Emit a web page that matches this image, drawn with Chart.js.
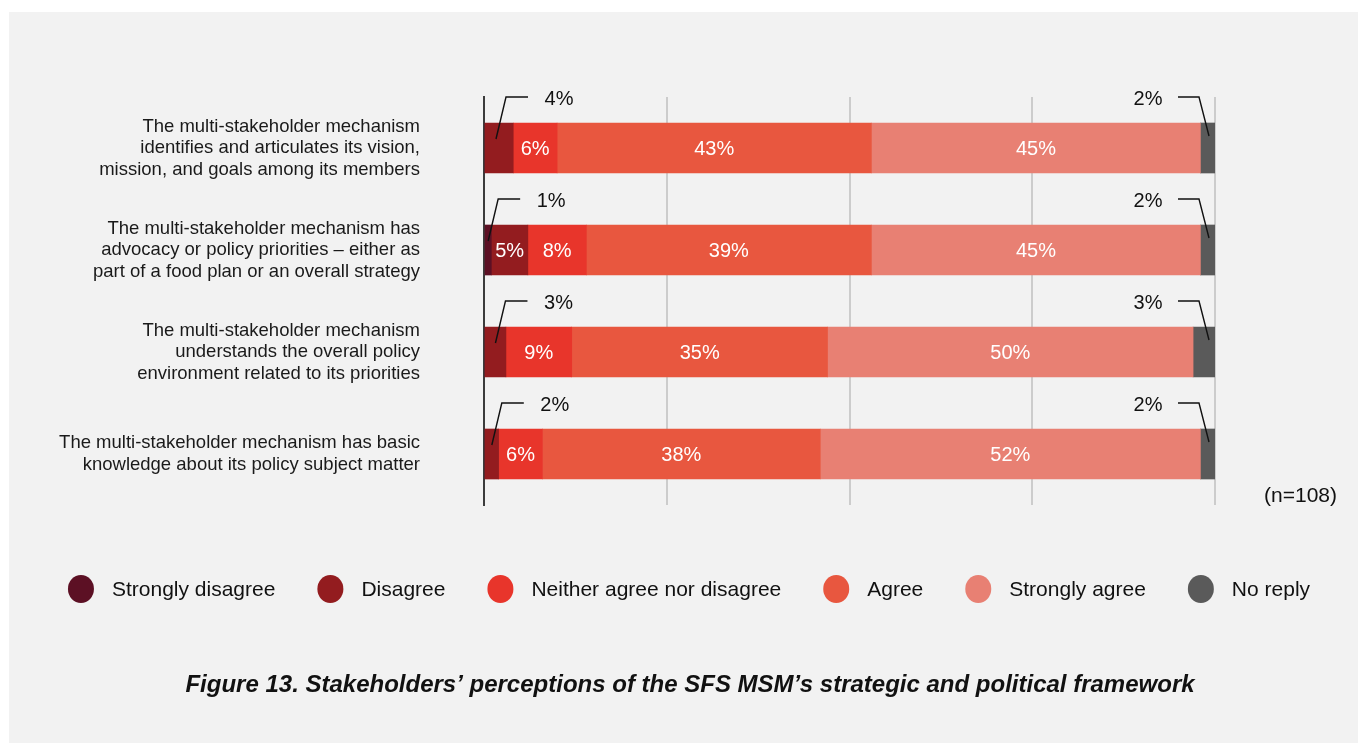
<!DOCTYPE html>
<html>
<head>
<meta charset="utf-8">
<script src="https://cdn.jsdelivr.net/npm/chart.js@4/dist/chart.umd.min.js"></script>
<style>
  html, body { margin: 0; padding: 0; background: #ffffff; }
  #wrap { position: relative; width: 1358px; height: 743px; }
</style>
</head>
<body>
<div id="wrap"><canvas id="chart"></canvas></div>
<script>
// Chart data
const categories = [
    ['The multi-stakeholder mechanism', 'identifies and articulates its vision,', 'mission, and goals among its members'],
    ['The multi-stakeholder mechanism has', 'advocacy or policy priorities \u2013 either as', 'part of a food plan or an overall strategy'],
    ['The multi-stakeholder mechanism', 'understands the overall policy', 'environment related to its priorities'],
    ['The multi-stakeholder mechanism has basic', 'knowledge about its policy subject matter']
];
const seriesNames = ['Strongly disagree', 'Disagree', 'Neither agree nor disagree', 'Agree', 'Strongly agree', 'No reply'];
const seriesColors = ['#5c1024', '#931c1f', '#e8352b', '#e8573f', '#e88073', '#5a5a5a'];

const stronglyDisagree = [0, 1, 0, 0];
const disagree = [4, 5, 3, 2];
const neitherAgree = [6, 8, 9, 6];
const agree = [43, 39, 35, 38];
const stronglyAgree = [45, 45, 50, 52];
const noReply = [2, 2, 3, 2];

const xTicks = [0, 25, 50, 75, 100];

const FONT = '"Liberation Sans", Arial, sans-serif';
const titleText = 'Figure 13. Stakeholders\u2019 perceptions of the SFS MSM\u2019s strategic and political framework';
const sampleText = '(n=108)';

const seriesValues = [stronglyDisagree, disagree, neitherAgree, agree, stronglyAgree, noReply];

// Panel background
const backgroundPlugin = {
    id: 'panelBackground',
    beforeDraw(chart) {
        const ctx = chart.ctx;
        ctx.save();
        ctx.fillStyle = '#ffffff';
        ctx.fillRect(0, 0, chart.width, chart.height);
        ctx.fillStyle = '#f2f2f2';
        ctx.fillRect(9, 12, chart.width - 9, chart.height - 12);
        ctx.restore();
    }
};

// Value labels, with leader lines for the thin segments
const calloutPlugin = {
    id: 'callouts',
    afterDatasetsDraw(chart) {
        const ctx = chart.ctx;
        const lastIdx = chart.data.datasets.length - 1;
        ctx.save();
        ctx.font = '20px ' + FONT;
        ctx.textAlign = 'center';
        ctx.textBaseline = 'middle';
        ctx.lineWidth = 1.4;
        ctx.strokeStyle = '#111111';

        chart.data.datasets.forEach((ds, di) => {
            chart.getDatasetMeta(di).data.forEach((bar, i) => {
                const v = ds.data[i];
                if (!v) return;
                const left = Math.min(bar.base, bar.x);
                const right = Math.max(bar.base, bar.x);
                const top = bar.y - bar.height / 2;
                const label = v + '%';

                if (di === lastIdx) {
                    const ex = right - 6, ey = top + 13;
                    const kx = right - 16, ky = top - 26;
                    ctx.beginPath();
                    ctx.moveTo(kx - 21, ky);
                    ctx.lineTo(kx, ky);
                    ctx.lineTo(ex, ey);
                    ctx.stroke();
                    ctx.fillStyle = '#111111';
                    ctx.fillText(label, kx - 51, ky + 2);
                } else if (v <= 4) {
                    const ex = left + Math.min((right - left) / 2, 11), ey = top + 16;
                    const kx = ex + 10, ky = top - 26;
                    ctx.beginPath();
                    ctx.moveTo(ex, ey);
                    ctx.lineTo(kx, ky);
                    ctx.lineTo(kx + 22, ky);
                    ctx.stroke();
                    ctx.fillStyle = '#111111';
                    ctx.fillText(label, kx + 53, ky + 2);
                } else {
                    ctx.fillStyle = '#ffffff';
                    ctx.fillText(label, (left + right) / 2, bar.y + 1);
                }
            });
        });
        ctx.restore();
    }
};

// Legend, note and caption
const extrasPlugin = {
    id: 'extras',
    afterDraw(chart) {
        const ctx = chart.ctx;
        const area = chart.chartArea;
        ctx.save();

        // sample size note
        ctx.font = '21px ' + FONT;
        ctx.fillStyle = '#111111';
        ctx.textAlign = 'right';
        ctx.textBaseline = 'middle';
        ctx.fillText(sampleText, 1337, area.bottom - 9);

        // legend
        const legendY = 589;
        const radius = 13;
        const textGap = 31;
        const itemGap = 42;
        ctx.font = '21px ' + FONT;
        const widths = seriesNames.map(n => ctx.measureText(n).width);
        // left edge of first dot to end of last text
        let total = radius;
        widths.forEach((w, i) => {
            total += textGap + w;
            if (i < widths.length - 1) total += itemGap + radius;
        });
        let x = 689 - total / 2 + radius;
        ctx.textAlign = 'left';
        seriesNames.forEach((name, i) => {
            ctx.fillStyle = seriesColors[i];
            ctx.beginPath();
            ctx.ellipse(x, legendY, radius, radius + 1, 0, 0, Math.PI * 2);
            ctx.fill();
            ctx.fillStyle = '#111111';
            ctx.fillText(name, x + textGap, legendY + 1);
            x += textGap + widths[i] + itemGap + radius;
        });

        // caption
        ctx.font = 'italic bold 24px ' + FONT;
        ctx.textAlign = 'center';
        ctx.fillStyle = '#111111';
        ctx.fillText(titleText, 690, 685);

        ctx.restore();
    }
};

const datasets = seriesNames.map((name, i) => ({
    label: name,
    data: seriesValues[i],
    backgroundColor: seriesColors[i],
    borderWidth: 0,
    barThickness: 50
}));

new Chart(document.getElementById('chart'), {
    type: 'bar',
    data: { labels: categories, datasets: datasets },
    options: {
        indexAxis: 'y',
        responsive: true,
        maintainAspectRatio: false,
        animation: false,
        layout: { padding: { top: 97, bottom: 238, left: 0, right: 143 } },
        plugins: {
            legend: { display: false },
            tooltip: { enabled: false }
        },
        scales: {
            x: {
                stacked: true,
                min: 0,
                max: 100,
                afterBuildTicks(scale) {
                    scale.ticks = xTicks.map(v => ({ value: v }));
                },
                ticks: { display: false },
                grid: { color: '#cccccc', lineWidth: 2, drawTicks: false },
                border: { display: false }
            },
            y: {
                stacked: true,
                afterFit(scale) { scale.width = 484; },
                ticks: {
                    color: '#1a1a1a',
                    padding: 64,
                    font: { family: FONT, size: 18.5, lineHeight: 1.16 }
                },
                grid: { display: false, drawTicks: false },
                border: { display: true, color: '#3c3c3c', width: 2 }
            }
        }
    },
    plugins: [backgroundPlugin, calloutPlugin, extrasPlugin]
});
</script>
</body>
</html>
